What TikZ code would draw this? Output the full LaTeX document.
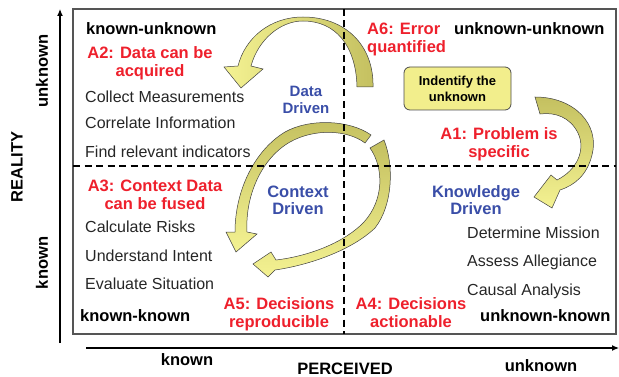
\documentclass[tikz,border=0pt]{standalone}
\usepackage{fontspec}
\setmainfont{Liberation Sans}
\usetikzlibrary{arrows.meta}

\definecolor{aimred}{RGB}{238,32,44}
\definecolor{driveblue}{RGB}{58,78,168}
\definecolor{bandolive}{RGB}{196,192,96}
\definecolor{bandpale}{RGB}{244,242,146}
\definecolor{boxyellow}{RGB}{242,238,140}
\definecolor{framegray}{RGB}{85,85,85}

\tikzset{
  task/.style={anchor=base west, inner sep=0pt, text=black!85, font=\fontsize{16}{18}\selectfont},
  corner/.style={anchor=base west, inner sep=0pt, font=\fontsize{16.5}{18}\selectfont\bfseries},
  aim/.style={align=center, inner sep=0pt, text=aimred, font=\fontsize{16.5}{18}\selectfont\bfseries},
  drive/.style={align=center, inner sep=0pt, text=driveblue, font=\fontsize{16.5}{17}\selectfont\bfseries},
  axlbl/.style={inner sep=0pt, font=\fontsize{16.5}{18}\selectfont\bfseries},
  band/.style={draw=black!75, line width=0.5pt},
  quad/.style={dash pattern=on 7pt off 4.5pt, line width=1.4pt},
}

\begin{document}
\begin{tikzpicture}[x=1pt,y=-1pt]
    \useasboundingbox (0,0) rectangle (619,377);

    \coordinate (fnw) at (73,9);
    \coordinate (fse) at (616,334);
    \coordinate (yb) at (60,343);
    \coordinate (yt) at (60,9);
    \coordinate (xl) at (86,348);
    \coordinate (xr) at (619,348);
    \coordinate (hl) at (73,166);
    \coordinate (hr) at (616,166);
    \coordinate (vt) at (344,9);
    \coordinate (vb) at (344,334);

    % axes and frame
    \draw[line width=1.2pt, -{Latex[length=7pt,width=6pt]}] (yb) -- (yt);
    \draw[line width=1.2pt, -{Latex[length=7pt,width=6pt]}] (xl) -- (xr);
    \draw[framegray, line width=1.3pt] (fnw) rectangle (fse);

    \node[axlbl, rotate=90] (reality) at (17,167) {REALITY};
    \node[axlbl, rotate=90] (yunk) at (42,71) {unknown};
    \node[axlbl, rotate=90] (ykn) at (42,263) {known};
    \node[axlbl] (xkn) at (187,360) {known};
    \node[axlbl] (perceived) at (345,368.5) {PERCEIVED};
    \node[axlbl] (xunk) at (541,366) {unknown};

    % curved arrows
    \path[band, left color=bandpale, right color=bandolive]
      (373,87) .. controls (374,45) and (345,17) .. (303,17)
      .. controls (270,17) and (245,38) .. (238,66)
      -- (224,67) -- (241,88) -- (263,69) -- (251,66)
      .. controls (258,40) and (280,21) .. (303,21)
      .. controls (335,21) and (356,45) .. (357,87) -- cycle;
    \path[band, top color=bandolive, bottom color=bandpale]
      (371,135) .. controls (350,120) and (310,118) .. (285,132)
      .. controls (255,150) and (235,190) .. (235,232)
      -- (226,232) -- (236,252) -- (257,234) -- (247,232)
      .. controls (245,195) and (262,158) .. (290,142)
      .. controls (315,128) and (348,130) .. (365,143) -- cycle;
    \path[band, top color=bandolive, bottom color=bandpale]
      (384,140) .. controls (394,165) and (393,205) .. (375,228)
      .. controls (352,250) and (310,265) .. (275,270)
      -- (268,277) -- (253,264) -- (271,252) -- (276,260)
      .. controls (310,256) and (345,242) .. (364,222)
      .. controls (384,200) and (384,168) .. (370,148) -- cycle;
    \path[band, top color=bandolive, bottom color=bandpale]
      (535,97) .. controls (575,97) and (600,125) .. (592,155)
      .. controls (587,175) and (575,185) .. (560,190)
      -- (552,208) -- (534,197) -- (551,175) -- (557,180)
      .. controls (577,170) and (586,150) .. (578,133)
      .. controls (570,117) and (555,112) .. (540,114) -- cycle;

    % quadrant split
    \draw[quad] (hl) -- (hr);
    \draw[quad] (vt) -- (vb);

    \node[corner] (ku) at (86,35) {known-unknown};
    \node[corner] (uu) at (454,35) {unknown-unknown};
    \node[corner] (kk) at (80,321) {known-known};
    \node[corner] (uk) at (480,321) {unknown-known};

    \node[aim] (a2) at (150,63) {A2: Data can be\\acquired};
    \node[aim] (a3) at (155,195) {A3: Context Data\\can be fused};
    \node[aim] (a5) at (279,314) {A5: Decisions\\reproducible};
    \node[aim] (a4) at (411,313) {A4: Decisions\\actionable};
    \node[aim, align=left, anchor=west] (a6) at (367,39) {A6: Error\\quantified};
    \node[aim] (a1) at (499,144) {A1: Problem is\\specific};

    \node[drive, font=\fontsize{15}{17}\selectfont\bfseries] (datadr) at (306,100) {Data\\Driven};
    \node[drive] (ctxdr) at (298,200) {Context\\Driven};
    \node[drive] (knowdr) at (476,200) {Knowledge\\Driven};

    \node[task] (t1) at (85,103) {Collect Measurements};
    \node[task] (t2) at (85,129) {Correlate Information};
    \node[task] (t3) at (85,158) {Find relevant indicators};
    \node[task] (t4) at (85,233) {Calculate Risks};
    \node[task] (t5) at (85,261) {Understand Intent};
    \node[task] (t6) at (85,289) {Evaluate Situation};
    \node[task] (t7) at (467,239) {Determine Mission};
    \node[task] (t8) at (467,266) {Assess Allegiance};
    \node[task] (t9) at (467,295) {Causal Analysis};

    \node[draw=black!70, fill=boxyellow, line width=0.8pt, rounded corners=6pt,
          minimum width=107pt, minimum height=43pt, align=center,
          font=\fontsize{13}{16}\selectfont\bfseries] (ident) at (457.5,88.5) {Indentify the\\unknown};
\end{tikzpicture}
\end{document}
